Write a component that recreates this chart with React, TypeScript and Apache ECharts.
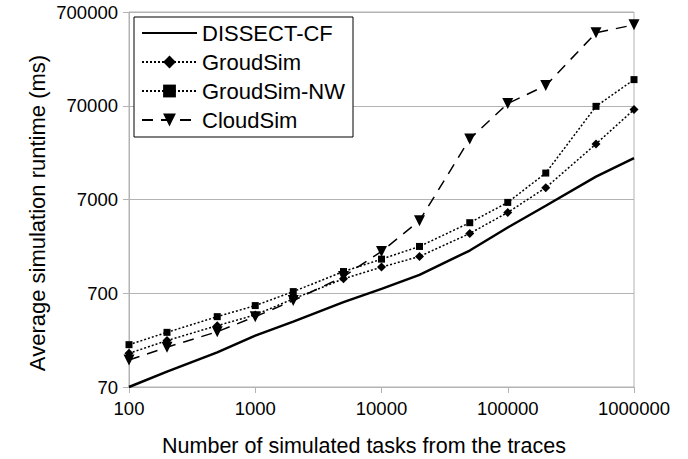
import React, { useEffect, useRef } from "react";
import * as echarts from "echarts";

const tasks = [100, 200, 500, 1000, 2000, 5000, 10000, 20000, 50000, 100000, 200000, 500000, 1000000];
const dissectCF = [70, 102, 164, 247, 349, 562, 779, 1100, 2000, 3520, 6000, 12300, 19300];
const groudSim = [160, 219, 316, 411, 610, 998, 1330, 1727, 3040, 5090, 9360, 27400, 63700];
const groudSimNW = [198, 268, 394, 517, 729, 1193, 1618, 2210, 3960, 6520, 13400, 69000, 133000];
const cloudSim = [136, 186, 272, 394, 585, 1055, 1953, 4160, 31000, 73900, 115000, 420000, 511000];
const yBase = 70; // lowest y tick label; each tick is 10x the previous
const yTickLabels = ["70", "700", "7000", "70000", "700000"];
const seriesNames = ["DISSECT-CF", "GroudSim", "GroudSim-NW", "CloudSim"];
const xTitle = "Number of simulated tasks from the traces";
const yTitle = "Average simulation runtime (ms)";

const FONT = "Liberation Sans";

function toPoints(vals: number[]) {
  return tasks.map((t, i) => [t, Math.log10(vals[i] / yBase)]);
}

export default function App() {
  const ref = useRef<HTMLDivElement>(null);
  useEffect(() => {
    if (!ref.current) return;
    const chart = echarts.init(ref.current, undefined, { renderer: "svg" });
    const grey = "#b3b3b3";
    chart.setOption({
      animation: false,
      backgroundColor: "#ffffff",
      textStyle: { fontFamily: FONT },
      grid: {
        left: 129,
        right: 54,
        top: 12,
        bottom: 72,
        show: true,
        borderColor: grey,
        borderWidth: 1,
        containLabel: false,
        outerBoundsMode: "none",
      },
      legend: {
        orient: "vertical",
        left: 134,
        top: 17,
        padding: [5, 8, 6, 7],
        itemWidth: 55,
        itemHeight: 16,
        itemGap: 7,
        backgroundColor: "#ffffff",
        borderColor: "#000000",
        borderWidth: 1,
        textStyle: { fontFamily: FONT, fontSize: 22, color: "#000000" },
        data: [
          { name: seriesNames[0], itemStyle: { opacity: 0 } },
          { name: seriesNames[1] },
          { name: seriesNames[2] },
          { name: seriesNames[3] },
        ],
      },
      graphic: [
        {
          type: "text",
          x: 37,
          y: 213,
          rotation: Math.PI / 2,
          silent: true,
          style: {
            text: yTitle,
            fontFamily: FONT,
            fontSize: 22,
            fill: "#000000",
            textAlign: "center",
            textVerticalAlign: "middle",
          },
        },
        {
          type: "text",
          x: 364,
          y: 446,
          silent: true,
          style: {
            text: xTitle,
            fontFamily: FONT,
            fontSize: 21.5,
            fill: "#000000",
            textAlign: "center",
            textVerticalAlign: "middle",
          },
        },
      ],
      xAxis: {
        type: "log",
        logBase: 10,
        min: 100,
        max: 1000000,
        axisLine: { show: true, lineStyle: { color: grey, width: 1 } },
        axisTick: { show: true, length: 6, lineStyle: { color: grey } },
        minorTick: { show: false },
        splitLine: { show: false },
        axisLabel: {
          fontFamily: FONT,
          fontSize: 18.5,
          color: "#000000",
          margin: 12,
          formatter: (v: number) => String(Math.round(v)),
        },
      },
      yAxis: {
        type: "value",
        min: 0,
        max: 4,
        interval: 1,
        axisLine: { show: true, lineStyle: { color: grey, width: 1 } },
        axisTick: { show: true, length: 6, lineStyle: { color: grey } },
        splitLine: { show: true, lineStyle: { color: grey, width: 1 } },
        axisLabel: {
          fontFamily: FONT,
          fontSize: 18.5,
          color: "#000000",
          margin: 11,
          formatter: (v: number) => yTickLabels[Math.round(v)] ?? "",
        },
      },
      series: [
        {
          name: seriesNames[0],
          type: "line",
          data: toPoints(dissectCF),
          symbol: "circle",
          showSymbol: false,
          lineStyle: { color: "#000000", width: 2.5, type: "solid" },
          itemStyle: { color: "#000000" },
          z: 5,
        },
        {
          name: seriesNames[1],
          type: "line",
          data: toPoints(groudSim),
          symbol: "diamond",
          symbolSize: 9,
          lineStyle: { color: "#000000", width: 1.5, type: [2, 2] },
          itemStyle: { color: "#000000" },
          z: 4,
        },
        {
          name: seriesNames[2],
          type: "line",
          data: toPoints(groudSimNW),
          symbol: "rect",
          symbolSize: 7,
          lineStyle: { color: "#000000", width: 1.5, type: [2, 2] },
          itemStyle: { color: "#000000" },
          z: 3,
        },
        {
          name: seriesNames[3],
          type: "line",
          data: toPoints(cloudSim),
          symbol: "triangle",
          symbolRotate: 180,
          symbolSize: 11,
          lineStyle: { color: "#000000", width: 1.5, type: [11, 8] },
          itemStyle: { color: "#000000" },
          z: 2,
        },
      ],
    });
    return () => chart.dispose();
  }, []);
  return (
    <div
      ref={ref}
      style={{ position: "absolute", left: 0, top: 0, width: 688, height: 459, background: "#ffffff" }}
    />
  );
}
